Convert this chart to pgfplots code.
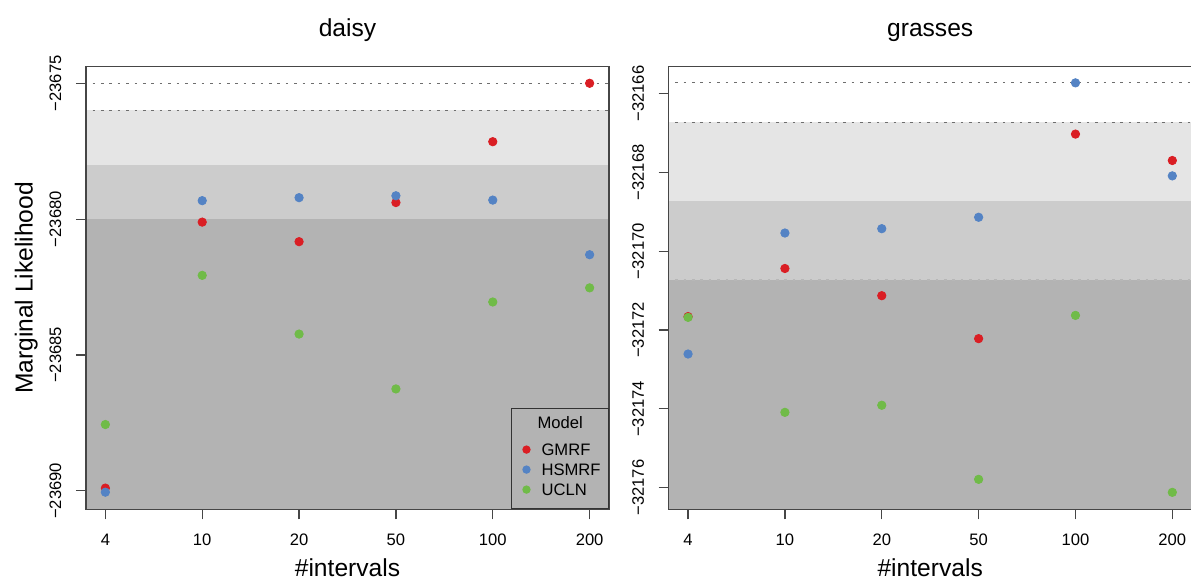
\documentclass[border=0pt]{standalone}
\usepackage{fontspec}
\setmainfont{Liberation Sans}
\usepackage{pgfplots}
\pgfplotsset{compat=1.18}

\definecolor{cGMRF}{RGB}{218,30,36}
\definecolor{cHSMRF}{RGB}{84,131,196}
\definecolor{cUCLN}{RGB}{112,187,72}
\definecolor{band1}{RGB}{229,229,229}
\definecolor{band2}{RGB}{204,204,204}
\definecolor{band3}{RGB}{179,179,179}
\definecolor{frame}{RGB}{70,70,70}
\definecolor{dashc}{RGB}{110,110,110}

\newcommand{\tickfont}{\fontsize{8.3}{10}\selectfont}
\newcommand{\labfont}{\fontsize{12.3}{14}\selectfont}

\pgfplotsset{
  rpanel/.style={
    scale only axis, width=261.5pt, height=221.3pt,
    xmin=-0.2, xmax=5.2,
    axis on top, scaled y ticks=false,
    axis line style={frame, line width=0.6pt},
    tick style={frame, line width=0.6pt},
    tick align=outside, major tick length=5pt,
    xtick pos=bottom, ytick pos=left,
    xtick={0,...,5}, xticklabels={4,10,20,50,100,200},
    xticklabel style={font=\tickfont, inner sep=0pt, anchor=north, yshift=-7pt},
    yticklabel style={font=\tickfont, inner sep=0pt, xshift=-7.15pt, rotate=90, anchor=south},
    xlabel={\#intervals},
    every axis x label/.style={at={(axis description cs:0.5,-0.131)}, anchor=center, font=\labfont},
    every axis title/.style={at={(0.5,1)}, anchor=base, yshift=14.85pt, font=\labfont},
  },
  dot/.style={only marks, mark=*, mark size=2.1pt, color=#1,
    mark options={draw=none, fill=#1}},
  band/.style={draw=none, fill=#1, forget plot},
  guide/.style={dashc, line width=0.6pt, dash pattern=on 1.3pt off 2.9pt, forget plot},
}

\begin{document}
\begin{tikzpicture}
\path[use as bounding box] (-43pt,-34.85pt) rectangle (552.5pt,254.65pt);

% daisy
\begin{axis}[rpanel, at={(0,0)}, anchor=south west,
  title={daisy},
  ymin=-23690.68, ymax=-23674.39,
  ytick={-23690,-23685,-23680,-23675},
  yticklabels={−23690,−23685,−23680,−23675},
  ylabel={Marginal Likelihood},
  every axis y label/.style={at={(axis description cs:-0.114,0.5)}, rotate=90, anchor=center, font=\labfont},
  legend image code/.code={\fill[#1, draw=none] (3.5pt,3pt) circle[radius=2.1pt]; \path (0pt,0pt) (10.85pt,0pt);},
  legend style={at={(1,0)}, anchor=south east, draw=black!80, fill=none,
    font=\tickfont, inner xsep=4pt, inner ysep=4.15pt, row sep=1pt,
    nodes={inner sep=0pt, text height=6pt, text depth=3pt}, cells={anchor=base west}},
]
\addplot[band=band1] coordinates {(-1,-23676) (6,-23676) (6,-23678) (-1,-23678)};
\addplot[band=band2] coordinates {(-1,-23678) (6,-23678) (6,-23680) (-1,-23680)};
\addplot[band=band3] coordinates {(-1,-23680) (6,-23680) (6,-23700) (-1,-23700)};
\addplot[guide] coordinates {(-1,-23675) (6,-23675)};
\addplot[guide] coordinates {(-1,-23676) (6,-23676)};

\addlegendimage{empty legend}
\addlegendentry[text depth=6.5pt]{\hspace*{-2pt}Model}
\addplot[dot=cGMRF] coordinates {(0,-23689.90) (1,-23680.11) (2,-23680.83) (3,-23679.39) (4,-23677.15) (5,-23675.00)};
\addlegendentry{GMRF}
\addplot[dot=cHSMRF] coordinates {(0,-23690.05) (1,-23679.32) (2,-23679.21) (3,-23679.14) (4,-23679.30) (5,-23681.31)};
\addlegendentry{HSMRF}
\addplot[dot=cUCLN] coordinates {(0,-23687.56) (1,-23682.07) (2,-23684.23) (3,-23686.25) (4,-23683.05) (5,-23682.53)};
\addlegendentry[text depth=2.5pt]{UCLN}
\end{axis}

% grasses
\begin{axis}[rpanel, at={(291.35pt,0)}, anchor=south west,
  title={grasses},
  ymin=-32176.55, ymax=-32165.32,
  ytick={-32176,-32174,-32172,-32170,-32168,-32166},
  yticklabels={−32176,−32174,−32172,−32170,−32168,−32166},
]
\addplot[band=band1] coordinates {(-1,-32166.73) (6,-32166.73) (6,-32168.73) (-1,-32168.73)};
\addplot[band=band2] coordinates {(-1,-32168.73) (6,-32168.73) (6,-32170.73) (-1,-32170.73)};
\addplot[band=band3] coordinates {(-1,-32170.73) (6,-32170.73) (6,-32180) (-1,-32180)};
\addplot[guide] coordinates {(-1,-32165.73) (6,-32165.73)};
\addplot[guide] coordinates {(-1,-32166.73) (6,-32166.73)};
\addplot[guide, dashc!50] coordinates {(-1,-32170.73) (6,-32170.73)};

\addplot[dot=cGMRF] coordinates {(0,-32171.66) (1,-32170.44) (2,-32171.13) (3,-32172.22) (4,-32167.03) (5,-32167.70)};
\addplot[dot=cHSMRF] coordinates {(0,-32172.61) (1,-32169.54) (2,-32169.43) (3,-32169.14) (4,-32165.73) (5,-32168.09)};
\addplot[dot=cUCLN] coordinates {(0,-32171.68) (1,-32174.09) (2,-32173.91) (3,-32175.79) (4,-32171.63) (5,-32176.12)};
\end{axis}
\end{tikzpicture}
\end{document}
